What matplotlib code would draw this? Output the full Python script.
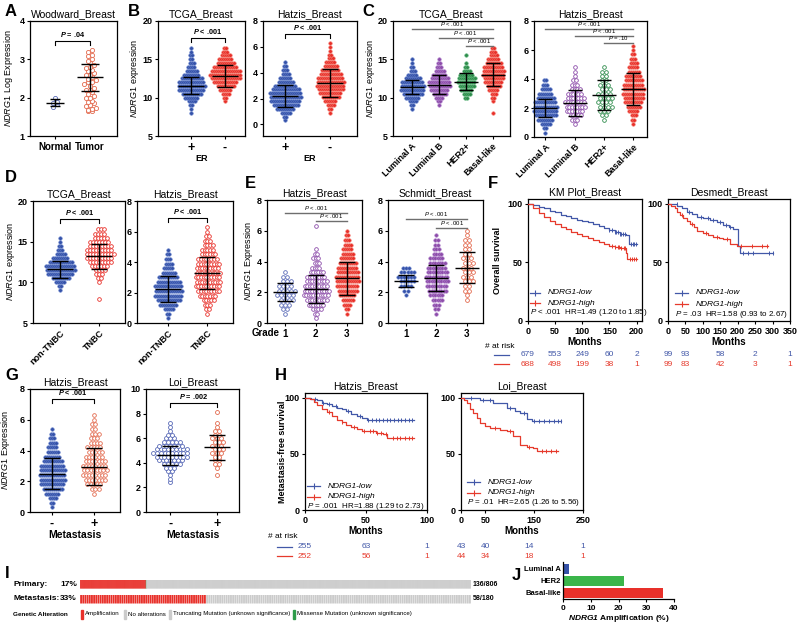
import numpy as np
import matplotlib
matplotlib.use('Agg')
import matplotlib.pyplot as plt
from matplotlib.lines import Line2D
from matplotlib.patches import Rectangle
from matplotlib.transforms import blended_transform_factory

plt.rcParams['font.family'] = ['Liberation Sans', 'DejaVu Sans']
plt.rcParams['mathtext.fontset'] = 'custom'
plt.rcParams['mathtext.rm'] = 'Liberation Sans'
plt.rcParams['mathtext.it'] = 'Liberation Sans:italic'
plt.rcParams['mathtext.bf'] = 'Liberation Sans:bold'
plt.rcParams['mathtext.bfit'] = 'Liberation Sans:italic:bold'
plt.rcParams['axes.linewidth'] = 0.9

W, H = 800, 624

BLUE = '#3552a8'
BLUE_EDGE = '#6580cc'
OPEN_BLUE = '#5a6bb8'
RED = '#e8302a'
RED_EDGE = '#f47a6e'
ORANGE = '#e36a4e'
PURPLE = '#8d4daa'
PURPLE_EDGE = '#b07fcb'
GREEN = '#2f8c4c'
GREEN_EDGE = '#5fb77c'
KM_BLUE = '#4258a8'
KM_RED = '#e63a2c'
GRAY = '#cbcbcb'

# ---------------- data ----------------
# rows of the dense swarms: value level -> dots across that row
tcga_levels = [8.0, 8.5, 9.0, 9.5, 10.0, 10.5, 11.0, 11.5, 12.0, 12.5, 13.0, 13.5,
               14.0, 14.5, 15.0, 15.5, 16.0, 16.5]
hatzis_levels = [0.3, 0.6, 0.9, 1.2, 1.5, 1.8, 2.1, 2.4, 2.7, 3.0, 3.3, 3.6, 3.9,
                 4.2, 4.5, 4.8, 5.1, 5.4, 5.7, 6.0, 6.3]
loi_levels = [2.4, 2.7, 3.0, 3.3, 3.6, 3.9, 4.2, 4.5, 4.8, 5.1, 5.4, 5.7, 6.0,
              6.3, 6.6, 6.9, 7.2, 7.5, 7.8, 8.1]

# A  Woodward
woodward_normal = [1.99, 1.88, 1.86, 1.84, 1.76]
woodward_tumor = [3.25, 3.2, 3.12, 3.08, 3.0, 2.95, 2.9, 2.85, 2.8, 2.78, 2.72, 2.7,
                  2.65, 2.6, 2.55, 2.5, 2.45, 2.42, 2.4, 2.35, 2.3, 2.25, 2.2, 2.2,
                  2.15, 2.1, 2.05, 2.0, 1.98, 1.92, 1.88, 1.85, 1.8, 1.78, 1.72,
                  1.7, 1.68, 1.65, 1.65, 2.6]
woodward_mean = [1.87, 2.53]
woodward_sd = [0.1, 0.35]

# B  ER status
tcga_er_pos = [1, 1, 2, 4, 7, 10, 13, 14, 13, 11, 8, 6, 4, 3, 2, 2, 1, 1]
tcga_er_neg = [0, 0, 0, 1, 2, 4, 6, 9, 12, 15, 16, 15, 12, 9, 7, 5, 3, 2]
tcga_er_mean = [11.55, 12.85]
tcga_er_sd = [1.1, 1.4]
hatzis_er_pos = [1, 2, 5, 9, 13, 15, 16, 16, 14, 11, 8, 6, 4, 3, 2, 1, 0, 0, 0, 0, 0]
hatzis_er_neg = [0, 0, 1, 2, 4, 6, 9, 11, 13, 14, 14, 13, 11, 9, 7, 5, 3, 2, 1, 1, 1]
hatzis_er_mean = [2.17, 3.17]
hatzis_er_sd = [0.85, 1.08]

# C  subtypes
subtypes = ['Luminal A', 'Luminal B', 'HER2+', 'Basal-like']
tcga_luma = [0, 1, 2, 4, 7, 10, 12, 12, 11, 8, 5, 3, 2, 1, 1, 0, 0, 0]
tcga_lumb = [0, 0, 1, 2, 4, 7, 9, 11, 11, 9, 7, 5, 3, 2, 1, 0, 0, 0]
tcga_her2 = [0, 0, 0, 0, 2, 4, 6, 8, 9, 9, 7, 4, 2, 1, 0, 1, 0, 0]
tcga_basal = [1, 0, 0, 1, 2, 3, 5, 7, 9, 10, 11, 11, 10, 8, 6, 4, 3, 2]
tcga_sub_mean = [11.4, 11.7, 12.1, 13.0]
tcga_sub_sd = [0.95, 1.25, 1.1, 1.5]
tcga_sub_p = ['P < .001', 'P < .001', 'P < .001']
tcga_sub_py = [19.0, 17.8, 16.7]
hatzis_luma = [1, 2, 5, 8, 11, 12, 12, 11, 9, 7, 5, 3, 2, 0, 0, 0, 0, 0, 0, 0, 0]
hatzis_lumb = [0, 0, 1, 3, 5, 7, 8, 8, 7, 6, 4, 3, 2, 1, 1, 1, 0, 0, 0, 0, 0]
hatzis_her2 = [0, 0, 0, 1, 2, 3, 4, 4, 4, 4, 3, 3, 2, 2, 2, 1, 0, 0, 0, 0, 0]
hatzis_basal = [0, 0, 1, 2, 3, 5, 7, 9, 10, 11, 11, 10, 9, 8, 6, 5, 4, 3, 2, 1, 1]
hatzis_sub_mean = [2.0, 2.35, 2.9, 3.3]
hatzis_sub_sd = [0.65, 0.9, 1.05, 1.1]
hatzis_sub_p = ['P < .001', 'P < .001', 'P = .10']
hatzis_sub_py = [7.45, 7.0, 6.5]

# D  TNBC
tcga_nontnbc = [0, 0, 1, 2, 5, 9, 13, 15, 15, 12, 8, 5, 3, 2, 1, 1, 0, 0]
tcga_tnbc = [1, 0, 0, 0, 1, 2, 3, 4, 6, 8, 9, 10, 9, 8, 7, 5, 4, 3]
tcga_tnbc_mean = [11.6, 13.2]
tcga_tnbc_sd = [1.05, 1.5]
hatzis_nontnbc = [1, 2, 5, 9, 12, 14, 14, 14, 12, 10, 7, 5, 4, 3, 2, 1, 0, 0, 0, 0, 0]
hatzis_tnbc = [0, 1, 2, 3, 5, 7, 9, 10, 10, 10, 10, 9, 9, 8, 6, 5, 4, 3, 2, 1, 1]
hatzis_tnbc_mean = [2.2, 3.25]
hatzis_tnbc_sd = [0.85, 1.05]

# E  grade
hatzis_g1 = [0, 1, 2, 3, 4, 5, 5, 4, 3, 2, 1, 0, 0, 0, 0, 0, 0, 0, 0, 0, 0]
hatzis_g2 = [1, 2, 4, 7, 9, 11, 11, 10, 9, 8, 6, 4, 3, 3, 2, 1, 0, 0, 0, 0, 1]
hatzis_g3 = [0, 1, 2, 4, 6, 8, 10, 11, 12, 12, 11, 10, 9, 7, 6, 5, 4, 3, 2, 1, 0]
hatzis_grade_mean = [2.0, 2.2, 2.9]
hatzis_grade_sd = [0.6, 0.9, 1.05]
hatzis_grade_p = ['P < .001', 'P < .001']
hatzis_grade_py = [7.15, 6.65]
schmidt_g1 = [0, 0, 0, 0, 0, 1, 2, 4, 5, 6, 5, 3, 0, 0, 0, 0, 0, 0, 0, 0, 0]
schmidt_g2 = [0, 1, 2, 3, 5, 6, 8, 9, 10, 10, 9, 8, 7, 6, 4, 3, 2, 2, 1, 0, 0]
schmidt_g3 = [0, 0, 0, 0, 1, 1, 2, 2, 3, 3, 3, 3, 3, 3, 2, 2, 2, 2, 1, 1, 0]
schmidt_grade_mean = [2.75, 2.9, 3.6]
schmidt_grade_sd = [0.38, 0.85, 1.02]
schmidt_grade_p = ['P < .001', 'P < .001']
schmidt_grade_py = [6.75, 6.2]

# G  metastasis
hatzis_met_neg = [1, 2, 4, 7, 10, 12, 13, 13, 13, 12, 10, 8, 6, 5, 4, 3, 2, 1, 0, 0, 0]
hatzis_met_pos = [0, 0, 0, 1, 3, 5, 7, 8, 8, 8, 7, 6, 5, 5, 4, 3, 3, 2, 2, 1, 1]
hatzis_met_mean = [2.5, 2.95]
hatzis_met_sd = [1.0, 1.2]
loi_met_neg = [1, 1, 1, 2, 3, 5, 7, 9, 10, 9, 7, 5, 3, 2, 1, 1, 1, 0, 0, 0]
loi_met_pos = [0, 0, 1, 0, 1, 2, 2, 2, 3, 3, 3, 3, 3, 2, 2, 1, 1, 0, 0, 1]
loi_met_mean = [4.6, 5.25]
loi_met_sd = [0.8, 1.05]

# F  overall survival (months, % surviving)
kmplot_low_t = [0, 10, 20, 30, 40, 50, 60, 70, 80, 90, 100, 110, 120, 130, 140, 150, 160, 170, 180, 186, 200]
kmplot_low_s = [100, 98.5, 97.5, 96.5, 94, 92.5, 90.7, 89.5, 88, 86.5, 85, 84, 82.5, 81, 79.5, 77.5, 75.5, 74, 72.9, 66, 66]
kmplot_low_cens = [150, 155, 160, 163, 166, 170, 172, 175, 178, 190, 193, 196, 199]
kmplot_high_t = [0, 10, 20, 30, 40, 50, 60, 70, 80, 90, 100, 110, 120, 130, 140, 150, 160, 170, 180, 183, 200]
kmplot_high_s = [100, 96, 92, 88.5, 85, 82.5, 80.5, 78, 76, 74, 72.5, 71, 69, 67.5, 66, 64, 63, 61.9, 57.6, 52.5, 52.5]
kmplot_high_cens = [155, 160, 165, 168, 172, 176, 179, 188, 192, 196, 199]
kmplot_risk_t = [0, 50, 100, 150, 200]
kmplot_risk_low = [679, 553, 249, 60, 2]
kmplot_risk_high = [688, 498, 199, 38, 1]

desmedt_low_t = [0, 15, 26, 40, 54, 70, 83, 100, 120, 140, 158, 175, 186, 200, 206, 300]
desmedt_low_s = [100, 99.5, 98, 96, 93, 91, 89, 87.5, 85.7, 84, 82, 80.5, 78.8, 63.6, 57.6, 57.6]
desmedt_low_cens = [25, 60, 95, 115, 130, 150, 165, 178, 215, 230, 245, 290, 300]
desmedt_high_t = [0, 10, 20, 26, 35, 43, 55, 63, 75, 83, 100, 115, 129, 145, 158, 178, 198, 287]
desmedt_high_s = [100, 98, 96, 93, 90, 88, 85, 83, 80, 77, 74.6, 73.3, 72, 70.5, 69.5, 66, 63.6, 63.6]
desmedt_high_cens = [40, 70, 110, 140, 170, 210, 240, 270, 285]
desmedt_risk_t = [0, 50, 150, 250, 350]
desmedt_risk_low = [99, 93, 58, 2, 1]
desmedt_risk_high = [99, 83, 42, 3, 1]

# H  metastasis-free survival
hmfs_low_t = [0, 5, 10, 14, 18, 22, 26, 30, 34, 38, 42.5, 47, 51, 89]
hmfs_low_s = [100, 98.5, 97.4, 95.5, 94, 92.5, 91, 89.5, 88, 85.5, 83.6, 82, 80.2, 80.2]
hmfs_low_cens = [8, 15, 20, 25, 35, 45, 52, 55, 58, 61, 64, 67, 70, 73, 76, 79, 82, 85, 88]
hmfs_high_t = [0, 4, 7, 10, 14, 18, 22, 26, 30, 34, 38, 42.5, 47, 51, 58, 64, 67, 89]
hmfs_high_s = [100, 98.3, 96, 93, 90, 87, 83.5, 80.2, 78, 76, 73.5, 71.6, 70.5, 69.8, 68.5, 67.2, 63.8, 63.8]
hmfs_high_cens = [20, 30, 40, 48, 53, 56, 59, 62, 66, 72, 75, 78, 82, 85, 88]
hmfs_risk_t = [0, 50, 100]
hmfs_risk_low = [255, 63, 1]
hmfs_risk_high = [252, 56, 1]

loi_low_t = [0, 39, 66, 94, 110, 121, 135, 145, 205]
loi_low_s = [100, 98, 94.8, 91, 88, 86, 81, 79, 79]
loi_low_cens = [20, 45, 60, 100, 130, 150, 160, 170, 180, 190, 198, 205]
loi_high_t = [0, 6, 12, 18, 25, 32, 39, 50, 60, 80, 94, 107, 121, 135, 148, 155, 198]
loi_high_s = [100, 97.5, 94.8, 90, 86, 82, 77.6, 75, 73, 71.5, 70.5, 65.5, 58, 56, 55, 52.5, 52.5]
loi_high_cens = [70, 100, 140, 165, 175, 185, 195]
loi_risk_t = [0, 50, 140, 250]
loi_risk_low = [43, 40, 14, 1]
loi_risk_high = [44, 34, 18, 1]

# I  cBioPortal oncoprint
onco_rows = ['Primary:', 'Metastasis:']
onco_pct = ['17%', '33%']
onco_total = [806, 180]
onco_amp = [136, 58]
onco_missense = [1, 0]

# J  amplification by subtype
amp_subtypes = ['Luminal A', 'HER2', 'Basal-like']
amp_pct = [2.1, 22.0, 36.0]

# ---------------- helpers ----------------
fig = plt.figure(figsize=(W / 100, H / 100), dpi=100)


def add_ax(x0, y0, x1, y1):
    return fig.add_axes([x0 / W, 1 - y1 / H, (x1 - x0) / W, (y1 - y0) / H])


def ftext(x, y, s, **kw):
    kw.setdefault('va', 'center')
    return fig.text(x / W, 1 - y / H, s, **kw)


def px_scale(ax):
    pos = ax.get_position()
    x0, x1 = ax.get_xlim()
    y0, y1 = ax.get_ylim()
    return (x1 - x0) / (pos.width * W), (y1 - y0) / (pos.height * H)


def setup(ax, xlim, ylim, yticks, title, ylabel=None, lx=-0.2):
    ax.set_xlim(*xlim)
    ax.set_ylim(*ylim)
    ax.set_yticks(yticks)
    ax.tick_params(direction='out', length=2.5, width=0.8, labelsize=6.5, pad=1.5)
    ax.set_title(title, fontsize=7.5, pad=3)
    if ylabel:
        ax.set_ylabel(ylabel, fontsize=6.5, labelpad=1)
        ax.yaxis.set_label_coords(lx, 0.5)


def bold_ticks(ax):
    for t in ax.get_xticklabels() + ax.get_yticklabels():
        t.set_fontweight('bold')


def cats(ax, labels, rot=0, size=6.5):
    ax.set_xticks(range(len(labels)) if labels[0] != '1' else [1, 2, 3])
    if rot:
        ax.set_xticklabels(labels, rotation=rot, ha='right', rotation_mode='anchor',
                           fontsize=size, fontweight='bold')
    else:
        ax.set_xticklabels(labels, fontsize=size, fontweight='bold')


def swarm(ax, pos, vals, row, style, dx=2.0, wmax=30):
    ux, _ = px_scale(ax)
    vals = np.sort(np.asarray(vals, dtype=float))
    keys = np.round(vals / row).astype(int)
    xs, ys = [], []
    for k in np.unique(keys):
        v = vals[keys == k]
        span = min((len(v) - 1) * dx, wmax)
        off = np.linspace(-span / 2, span / 2, len(v))
        if len(v) > 2 and k % 2:
            off = off + dx / 2   # stagger alternate rows a little
        xs.extend(pos + off * ux)
        ys.extend(v)
    ax.scatter(xs, ys, zorder=2, clip_on=False, **style)


def filled(c, e, s=6.5):
    return dict(s=s, facecolors=c, edgecolors=e, linewidths=0.4)


def hollow(c, s=7.5):
    return dict(s=s, facecolors='white', edgecolors=c, linewidths=0.6)


def mean_sd(ax, pos, m, sd, hw=13, cw=8):
    ux, _ = px_scale(ax)
    kw = dict(color='black', lw=1.0, zorder=4, solid_capstyle='butt')
    ax.plot([pos - hw * ux, pos + hw * ux], [m, m], **kw)
    ax.plot([pos, pos], [m - sd, m + sd], **kw)
    for y in (m - sd, m + sd):
        ax.plot([pos - cw * ux, pos + cw * ux], [y, y], **kw)


def bracket(ax, a, b, y, text, drop=4):
    _, uy = px_scale(ax)
    ax.plot([a, a, b, b], [y - drop * uy, y, y, y - drop * uy], color='black', lw=0.8,
            clip_on=False)
    ax.annotate(text.replace('P', r'$\mathbfit{P}$'), ((a + b) / 2, y), xytext=(0, 1.5),
                textcoords='offset points', ha='center', va='bottom', fontsize=5.3,
                fontweight='bold')


def pline(ax, a, b, y, text):
    ax.plot([a, b], [y, y], color='#6e6e6e', lw=1.0, clip_on=False)
    ax.annotate(text.replace('P', r'$\it{P}$'), ((a + b) / 2, y), xytext=(0, 0.6),
                textcoords='offset points', ha='center', va='bottom', fontsize=4.3)


def km(ax, t, s, cens, color):
    t = np.asarray(t, dtype=float)
    s = np.asarray(s, dtype=float)
    ax.step(t, s, where='post', color=color, lw=0.9, zorder=3)
    idx = np.searchsorted(t, cens, side='right') - 1
    ax.plot(cens, s[idx], ls='none', marker='|', ms=3.5, mew=0.7, color=color, zorder=3)


def km_setup(ax, xlim, xticks, title, ylabel=None, lx=-0.2):
    ax.set_xlim(*xlim)
    ax.set_ylim(0, 104)
    ax.set_xticks(xticks)
    ax.set_yticks([0, 50, 100])
    ax.tick_params(direction='out', length=2.5, width=0.8, labelsize=6.5, pad=1.5)
    ax.set_title(title, fontsize=7.5, pad=3)
    ax.set_xlabel('Months', fontsize=7, fontweight='bold', labelpad=1)
    if ylabel:
        ax.set_ylabel(ylabel, fontsize=6.5, fontweight='bold', labelpad=1)
        ax.yaxis.set_label_coords(lx, 0.5)
    bold_ticks(ax)


def km_legend(x0, ys, ptext, length=13):
    for y, c, lab in zip(ys, (KM_BLUE, KM_RED), ('-low', '-high')):
        fig.add_artist(Line2D([x0 / W, (x0 + length) / W], [1 - y / H] * 2,
                              color=c, lw=0.9, transform=fig.transFigure))
        fig.add_artist(Line2D([(x0 + length / 2) / W], [1 - y / H], marker='|',
                              ms=4, mew=0.8, color=c, transform=fig.transFigure))
        ftext(x0 + length + 8, y, 'NDRG1' + lab, fontsize=6, style='italic')
    ftext(x0, ys[1] + 10, ptext.replace('P', r'$\it{P}$', 1), fontsize=5.8)


def at_risk(ax, times, low, high, y_low, y_high):
    tr = blended_transform_factory(ax.transData, fig.transFigure)
    for t, a, b in zip(times, low, high):
        ax.text(t, 1 - y_low / H, str(a), transform=tr, ha='center', va='center',
                fontsize=6, color=KM_BLUE)
        ax.text(t, 1 - y_high / H, str(b), transform=tr, ha='center', va='center',
                fontsize=6, color=KM_RED)


def risk_key(x, y_head, y_low, y_high):
    ftext(x, y_head, '# at risk', fontsize=6)
    for y, c in ((y_low, KM_BLUE), (y_high, KM_RED)):
        fig.add_artist(Line2D([(x + 9) / W, (x + 24) / W], [1 - y / H] * 2, color=c,
                              lw=0.9, transform=fig.transFigure))


def grow(levels, counts):
    return np.repeat(levels, counts)


NDRG1_EXPR = r'$\it{NDRG1}$ expression'
NDRG1_EXPR2 = r'$\it{NDRG1}$ Expression'
PM = ['+', '-']

# ---------------- A ----------------
ax = add_ax(30, 21, 117, 136)
setup(ax, (-0.72, 1.78), (1, 4), [1, 2, 3, 4], 'Woodward_Breast',
      r'$\it{NDRG1}$ Log Expression', -0.17)
cats(ax, ['Normal', 'Tumor'], size=7)
swarm(ax, 0, woodward_normal, 0.1, hollow(OPEN_BLUE, 9), dx=4.2)
swarm(ax, 1, woodward_tumor, 0.1, hollow(ORANGE, 9), dx=4.2)
mean_sd(ax, 0, woodward_mean[0], woodward_sd[0], hw=9, cw=5)
mean_sd(ax, 1, woodward_mean[1], woodward_sd[1], hw=13, cw=9)
bracket(ax, 0, 1, 3.48, 'P = .04')
bold_ticks(ax)

# ---------------- B ----------------
ax = add_ax(158, 21, 245, 136)
setup(ax, (-1.0, 1.6), (5, 20), [5, 10, 15, 20], 'TCGA_Breast', NDRG1_EXPR, -0.19)
cats(ax, PM, size=9)
ax.set_xlabel('ER', fontsize=6.5, fontweight='bold', labelpad=0)
swarm(ax, 0, grow(tcga_levels, tcga_er_pos), 0.5, filled(BLUE, BLUE_EDGE), wmax=28)
swarm(ax, 1, grow(tcga_levels, tcga_er_neg), 0.5, filled(RED, RED_EDGE), wmax=32)
for i in range(2):
    mean_sd(ax, i, tcga_er_mean[i], tcga_er_sd[i])
bracket(ax, 0, 1, 17.8, 'P < .001')
bold_ticks(ax)

ax = add_ax(263, 21, 357, 136)
setup(ax, (-0.48, 1.6), (-0.9, 8), [0, 2, 4, 6, 8], 'Hatzis_Breast')
cats(ax, PM, size=9)
ax.set_xlabel('ER', fontsize=6.5, fontweight='bold', labelpad=0)
swarm(ax, 0, grow(hatzis_levels, hatzis_er_pos), 0.3, filled(BLUE, BLUE_EDGE), wmax=34)
swarm(ax, 1, grow(hatzis_levels, hatzis_er_neg), 0.3, filled(RED, RED_EDGE), wmax=30)
for i in range(2):
    mean_sd(ax, i, hatzis_er_mean[i], hatzis_er_sd[i])
bracket(ax, 0, 1, 7.0, 'P < .001')
bold_ticks(ax)

# ---------------- C ----------------
ax = add_ax(393, 21, 510, 136)
setup(ax, (-0.7, 3.65), (5, 20), [5, 10, 15, 20], 'TCGA_Breast', NDRG1_EXPR, -0.14)
cats(ax, subtypes, rot=45)
groups = [(tcga_luma, BLUE, BLUE_EDGE), (tcga_lumb, PURPLE, PURPLE_EDGE),
          (tcga_her2, GREEN, GREEN_EDGE), (tcga_basal, RED, RED_EDGE)]
for i, (cnt, c, e) in enumerate(groups):
    swarm(ax, i, grow(tcga_levels, cnt), 0.5, filled(c, e), wmax=24)
    mean_sd(ax, i, tcga_sub_mean[i], tcga_sub_sd[i], hw=12, cw=7)
for i in range(3):
    pline(ax, i, 3, tcga_sub_py[i], tcga_sub_p[i])
bold_ticks(ax)

ax = add_ax(534, 21, 647, 137)
setup(ax, (-0.38, 3.47), (0, 8), [0, 2, 4, 6, 8], 'Hatzis_Breast')
cats(ax, subtypes, rot=45)
swarm(ax, 0, grow(hatzis_levels, hatzis_luma), 0.3, filled(BLUE, BLUE_EDGE), wmax=24)
swarm(ax, 1, grow(hatzis_levels, hatzis_lumb), 0.3, hollow(PURPLE, 7), dx=2.6, wmax=22)
swarm(ax, 2, grow(hatzis_levels, hatzis_her2), 0.3, hollow(GREEN, 7), dx=4.0, wmax=22)
swarm(ax, 3, grow(hatzis_levels, hatzis_basal), 0.3, filled(RED, RED_EDGE), wmax=24)
for i in range(4):
    mean_sd(ax, i, hatzis_sub_mean[i], hatzis_sub_sd[i], hw=12, cw=7)
for i in range(3):
    pline(ax, i, 3, hatzis_sub_py[i], hatzis_sub_p[i])
bold_ticks(ax)

# ---------------- D ----------------
ax = add_ax(33, 201, 125, 323)
setup(ax, (-0.68, 1.65), (5, 20), [5, 10, 15, 20], 'TCGA_Breast', NDRG1_EXPR, -0.17)
cats(ax, ['non-TNBC', 'TNBC'], rot=45)
swarm(ax, 0, grow(tcga_levels, tcga_nontnbc), 0.5, filled(BLUE, BLUE_EDGE), wmax=30)
swarm(ax, 1, grow(tcga_levels, tcga_tnbc), 0.5, hollow(RED, 7), dx=3.0, wmax=28)
for i in range(2):
    mean_sd(ax, i, tcga_tnbc_mean[i], tcga_tnbc_sd[i])
bracket(ax, 0, 1, 17.8, 'P < .001')
bold_ticks(ax)

ax = add_ax(137, 201, 233, 323)
setup(ax, (-0.79, 1.65), (0, 8), [0, 2, 4, 6, 8], 'Hatzis_Breast')
cats(ax, ['non-TNBC', 'TNBC'], rot=45)
swarm(ax, 0, grow(hatzis_levels, hatzis_nontnbc), 0.3, filled(BLUE, BLUE_EDGE), wmax=30)
swarm(ax, 1, grow(hatzis_levels, hatzis_tnbc), 0.3, hollow(RED, 7), dx=2.6, wmax=28)
for i in range(2):
    mean_sd(ax, i, hatzis_tnbc_mean[i], hatzis_tnbc_sd[i])
bracket(ax, 0, 1, 6.9, 'P < .001')
bold_ticks(ax)

# ---------------- E ----------------
ax = add_ax(267, 200, 362, 323)
setup(ax, (0.42, 3.5), (0, 8), [0, 2, 4, 6, 8], 'Hatzis_Breast', NDRG1_EXPR2, -0.13)
cats(ax, ['1', '2', '3'], size=7)
swarm(ax, 1, grow(hatzis_levels, hatzis_g1), 0.3, hollow(OPEN_BLUE, 7), dx=4.0, wmax=24)
swarm(ax, 2, grow(hatzis_levels, hatzis_g2), 0.3, hollow(PURPLE, 7), dx=2.4, wmax=24)
swarm(ax, 3, grow(hatzis_levels, hatzis_g3), 0.3, filled(RED, RED_EDGE), wmax=26)
for i in range(3):
    mean_sd(ax, i + 1, hatzis_grade_mean[i], hatzis_grade_sd[i], hw=12, cw=8)
for i in range(2):
    pline(ax, i + 1, 3, hatzis_grade_py[i], hatzis_grade_p[i])
ftext(280, 333, 'Grade', fontsize=7, fontweight='bold', ha='right')
bold_ticks(ax)

ax = add_ax(388, 200, 483, 323)
setup(ax, (0.41, 3.53), (0, 8), [0, 2, 4, 6, 8], 'Schmidt_Breast')
cats(ax, ['1', '2', '3'], size=7)
swarm(ax, 1, grow(hatzis_levels, schmidt_g1), 0.3, filled(BLUE, BLUE_EDGE, 6), dx=3.2, wmax=22)
swarm(ax, 2, grow(hatzis_levels, schmidt_g2), 0.3, filled(PURPLE, PURPLE_EDGE), dx=2.4, wmax=26)
swarm(ax, 3, grow(hatzis_levels, schmidt_g3), 0.3, hollow(ORANGE, 7.5), dx=4.2, wmax=26)
for i in range(3):
    mean_sd(ax, i + 1, schmidt_grade_mean[i], schmidt_grade_sd[i], hw=12, cw=8)
for i in range(2):
    pline(ax, i + 1, 3, schmidt_grade_py[i], schmidt_grade_p[i])
bold_ticks(ax)

# ---------------- F ----------------
ax = add_ax(528, 199, 642, 321)
km_setup(ax, (0, 210), [0, 50, 100, 150, 200], 'KM Plot_Breast', 'Overall survival', -0.23)
km(ax, kmplot_low_t, kmplot_low_s, kmplot_low_cens, KM_BLUE)
km(ax, kmplot_high_t, kmplot_high_s, kmplot_high_cens, KM_RED)
at_risk(ax, kmplot_risk_t, kmplot_risk_low, kmplot_risk_high, 355, 364)
km_legend(530, [293, 303], 'P < .001  HR=1.49 (1.20 to 1.85)', length=10)

ax = add_ax(668, 199, 790, 321)
km_setup(ax, (0, 350), [0, 50, 100, 150, 200, 250, 300, 350], 'Desmedt_Breast')
km(ax, desmedt_low_t, desmedt_low_s, desmedt_low_cens, KM_BLUE)
km(ax, desmedt_high_t, desmedt_high_s, desmedt_high_cens, KM_RED)
at_risk(ax, desmedt_risk_t, desmedt_risk_low, desmedt_risk_high, 355, 364)
km_legend(675, [293, 304], 'P = .03  HR=1.58 (0.93 to 2.67)')
risk_key(485, 347, 355, 364)

# ---------------- G ----------------
ax = add_ax(30, 389, 120, 512)
setup(ax, (-0.51, 1.62), (0, 8), [0, 2, 4, 6, 8], 'Hatzis_Breast', NDRG1_EXPR2, -0.2)
cats(ax, ['-', '+'], size=9)
ax.set_xlabel('Metastasis', fontsize=7.5, fontweight='bold', labelpad=0)
swarm(ax, 0, grow(hatzis_levels, hatzis_met_neg), 0.3, filled(BLUE, BLUE_EDGE), wmax=30)
swarm(ax, 1, grow(hatzis_levels, hatzis_met_pos), 0.3, hollow(ORANGE, 7), dx=3.2, wmax=28)
for i in range(2):
    mean_sd(ax, i, hatzis_met_mean[i], hatzis_met_sd[i])
bracket(ax, 0, 1, 7.35, 'P < .001')
bold_ticks(ax)

ax = add_ax(146, 389, 239, 512)
setup(ax, (-0.52, 1.48), (0, 10), [0, 2, 4, 6, 8, 10], 'Loi_Breast')
cats(ax, ['-', '+'], size=9)
ax.set_xlabel('Metastasis', fontsize=7.5, fontweight='bold', labelpad=0)
swarm(ax, 0, grow(loi_levels, loi_met_neg), 0.3, hollow(OPEN_BLUE, 8), dx=3.8, wmax=34)
swarm(ax, 1, grow(loi_levels, loi_met_pos), 0.3, hollow(ORANGE, 8), dx=4.2, wmax=30)
for i in range(2):
    mean_sd(ax, i, loi_met_mean[i], loi_met_sd[i])
bracket(ax, 0, 1, 8.86, 'P = .002')
bold_ticks(ax)

# ---------------- H ----------------
ax = add_ax(305, 393, 427, 510)
km_setup(ax, (0, 100), [0, 50, 100], 'Hatzis_Breast', 'Metastasis-free survival', -0.15)
km(ax, hmfs_low_t, hmfs_low_s, hmfs_low_cens, KM_BLUE)
km(ax, hmfs_high_t, hmfs_high_s, hmfs_high_cens, KM_RED)
at_risk(ax, hmfs_risk_t, hmfs_risk_low, hmfs_risk_high, 547, 556)
km_legend(307, [486, 497], 'P = .001  HR=1.88 (1.29 to 2.73)')

ax = add_ax(461, 393, 583, 510)
km_setup(ax, (0, 250), [0, 50, 150, 250], 'Loi_Breast')
km(ax, loi_low_t, loi_low_s, loi_low_cens, KM_BLUE)
km(ax, loi_high_t, loi_high_s, loi_high_cens, KM_RED)
at_risk(ax, loi_risk_t, loi_risk_low, loi_risk_high, 547, 556)
km_legend(467, [482, 493], 'P = .01  HR=2.65 (1.26 to 5.56)')
risk_key(268, 537, 547, 556)

# ---------------- I ----------------
row_y = [584, 599]
bar_fill = [1.6, 0.85]   # sample stripes: dense row drawn overlapping, sparse row with gaps
for r in range(2):
    ax = add_ax(80, row_y[r] - 4.5, 471, row_y[r] + 4.5)
    n, k, g = onco_total[r], onco_amp[r], onco_missense[r]
    colors = [RED] * k + ['#2e9c4a'] * g + [GRAY] * (n - k - g)
    x = (np.arange(n) + 0.5) / n
    ax.bar(x, 1, width=bar_fill[r] / n, color=colors, linewidth=0, snap=False)
    ax.set_xlim(0, 1)
    ax.set_ylim(0, 1)
    ax.axis('off')
    ftext(13, row_y[r], onco_rows[r], fontsize=6, fontweight='bold')
    ftext(77, row_y[r], onco_pct[r], fontsize=6, fontweight='bold', ha='right')
    ftext(473, row_y[r], '%d/%d' % (k, n), fontsize=5, fontweight='bold')

ftext(13, 614, 'Genetic Alteration', fontsize=4.6, fontweight='bold')
legend_items = [(81, RED, 'Amplification'), (124, GRAY, 'No alterations'),
                (169, GRAY, 'Truncating Mutation (unknown significance)'),
                (293, '#2e9c4a', 'Missense Mutation (unknown significance)')]
for x, c, lab in legend_items:
    fig.add_artist(Rectangle((x / W, 1 - 618.5 / H), 1.6 / W, 9 / H, color=c,
                             transform=fig.transFigure))
    ftext(x + 4, 614, lab, fontsize=4.4)

# ---------------- J ----------------
ax = add_ax(563, 562, 674, 599)
ax.barh(range(3), amp_pct, height=0.8, color=[BLUE, '#3ab54a', RED])
ax.set_ylim(2.5, -0.58)
ax.set_xlim(0, 40)
ax.set_xticks([0, 10, 20, 30, 40])
ax.set_yticks(range(3))
ax.set_yticklabels(amp_subtypes, fontsize=5.5)
ax.spines['top'].set_visible(False)
ax.spines['right'].set_visible(False)
ax.tick_params(direction='out', length=2.5, width=0.8, labelsize=6, pad=1.5)
ax.tick_params(axis='y', length=0, labelsize=5.5)
ax.set_xlabel(r'$\mathbfit{NDRG1}$ Amplification (%)', fontsize=6, fontweight='bold', labelpad=1)
bold_ticks(ax)

# panel letters
for lab, x, y in [('A', 5, 12), ('B', 128, 12), ('C', 362, 12), ('D', 5, 177),
                  ('E', 245, 183), ('F', 488, 183), ('G', 5, 375), ('H', 275, 375),
                  ('I', 5, 574), ('J', 512, 575)]:
    ftext(x, y, lab, fontsize=12, fontweight='bold')

fig.savefig('out.png', dpi=100)
